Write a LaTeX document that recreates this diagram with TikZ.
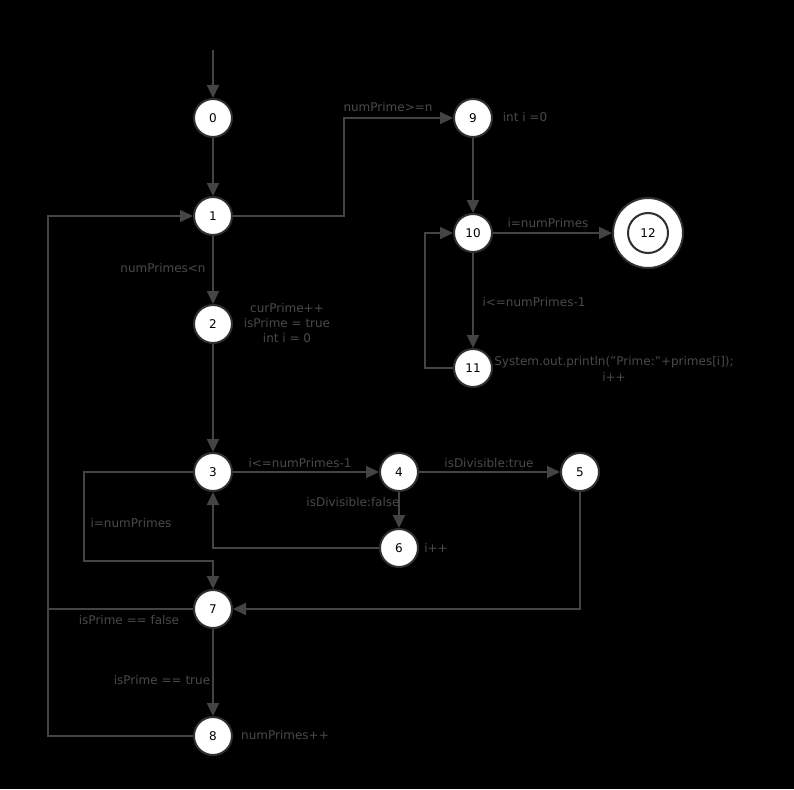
\documentclass[tikz,border=0pt]{standalone}
\usepackage{fontspec}
\setmainfont{DejaVu Sans}
\usetikzlibrary{arrows.meta}
\definecolor{linegray}{RGB}{68,68,68}
\definecolor{textgray}{RGB}{74,74,74}
\definecolor{ringgray}{RGB}{48,48,48}

\begin{document}
\begin{tikzpicture}[x=1pt, y=-1pt,
    state/.style={circle, draw=ringgray, line width=2pt, fill=white, minimum size=38pt, inner sep=0pt, font=\fontsize{12}{14}\selectfont},
    edge/.style={linegray, line width=2pt},
    flow/.style={edge, -{Triangle[length=13pt,width=12pt]}},
    lbl/.style={textgray, font=\fontsize{12}{15}\selectfont, inner sep=0pt, align=center}]

    % background and frame
    \fill[black] (0,0) rectangle (794,789);
    \useasboundingbox (0,0) rectangle (794,789);

    % states
    \node[state] (n0) at (213,118) {0};
    \node[state] (n1) at (213,216) {1};
    \node[state] (n2) at (213,324) {2};
    \node[state] (n3) at (213,472) {3};
    \node[state] (n4) at (399,472) {4};
    \node[state] (n5) at (580,472) {5};
    \node[state] (n6) at (399,548) {6};
    \node[state] (n7) at (213,609) {7};
    \node[state] (n8) at (213,736) {8};
    \node[state] (n9) at (473,118) {9};
    \node[state] (n10) at (473,233) {10};
    \node[state] (n11) at (473,368) {11};
    \node[state, minimum size=70pt] (n12) at (648,233) {};
    \node[state, minimum size=40pt] (n12in) at (n12) {12};

    % bend points
    \coordinate (start) at (213,50);
    \coordinate (b19) at (344,170);
    \coordinate (b1110) at (425,300);
    \coordinate (b37) at (84,561);
    \coordinate (b71) at (48,609);

    % connectors
    \draw[flow] (start) -- (n0);
    \draw[flow] (n0) -- (n1);
    \draw[flow] (n1) -| (b19) |- (n9);
    \draw[flow] (n9) -- (n10);
    \draw[flow] (n10) -- (n12);
    \draw[flow] (n10) -- (n11);
    \draw[flow] (n11) -| (b1110) |- (n10);
    \draw[flow] (n1) -- (n2);
    \draw[flow] (n2) -- (n3);
    \draw[flow] (n3) -- (n4);
    \draw[flow] (n4) -- (n5);
    \draw[flow] (n4) -- (n6);
    \draw[flow] (n6) -| (n3);
    \draw[flow] (n3) -| (b37) -| (n7);
    \draw[flow] (n5) |- (n7);
    \draw[flow] (n7) -- (b71) |- (n1);
    \draw[flow] (n7) -- (n8);
    \draw[edge] (n8) -| (b71);

    % labels
    \node[lbl] (l19) at (388,107) {numPrime>=n};
    \node[lbl] (l9) at (525,117) {int i =0};
    \node[lbl] (l1012) at (548,223) {i=numPrimes};
    \node[lbl] (l1011) at (534,302) {i<=numPrimes-1};
    \node[lbl] (l11) at (614,369) {System.out.println(\symbol{34}Prime:\symbol{34}+primes[i]);\\[1pt]i++};
    \node[lbl] (l12) at (163,268) {numPrimes<n};
    \node[lbl] (l2) at (287,323) {curPrime++\\isPrime = true\\int i = 0};
    \node[lbl] (l34) at (300,463) {i<=numPrimes-1};
    \node[lbl] (l37) at (131,523) {i=numPrimes};
    \node[lbl] (l45) at (489,463) {isDivisible:true};
    \node[lbl] (l46) at (353,502) {isDivisible:false};
    \node[lbl] (l6) at (436,548) {i++};
    \node[lbl] (l71) at (129,620) {isPrime == false};
    \node[lbl] (l78) at (162,680) {isPrime == true};
    \node[lbl] (l8) at (285,735) {numPrimes++};
\end{tikzpicture}
\end{document}
